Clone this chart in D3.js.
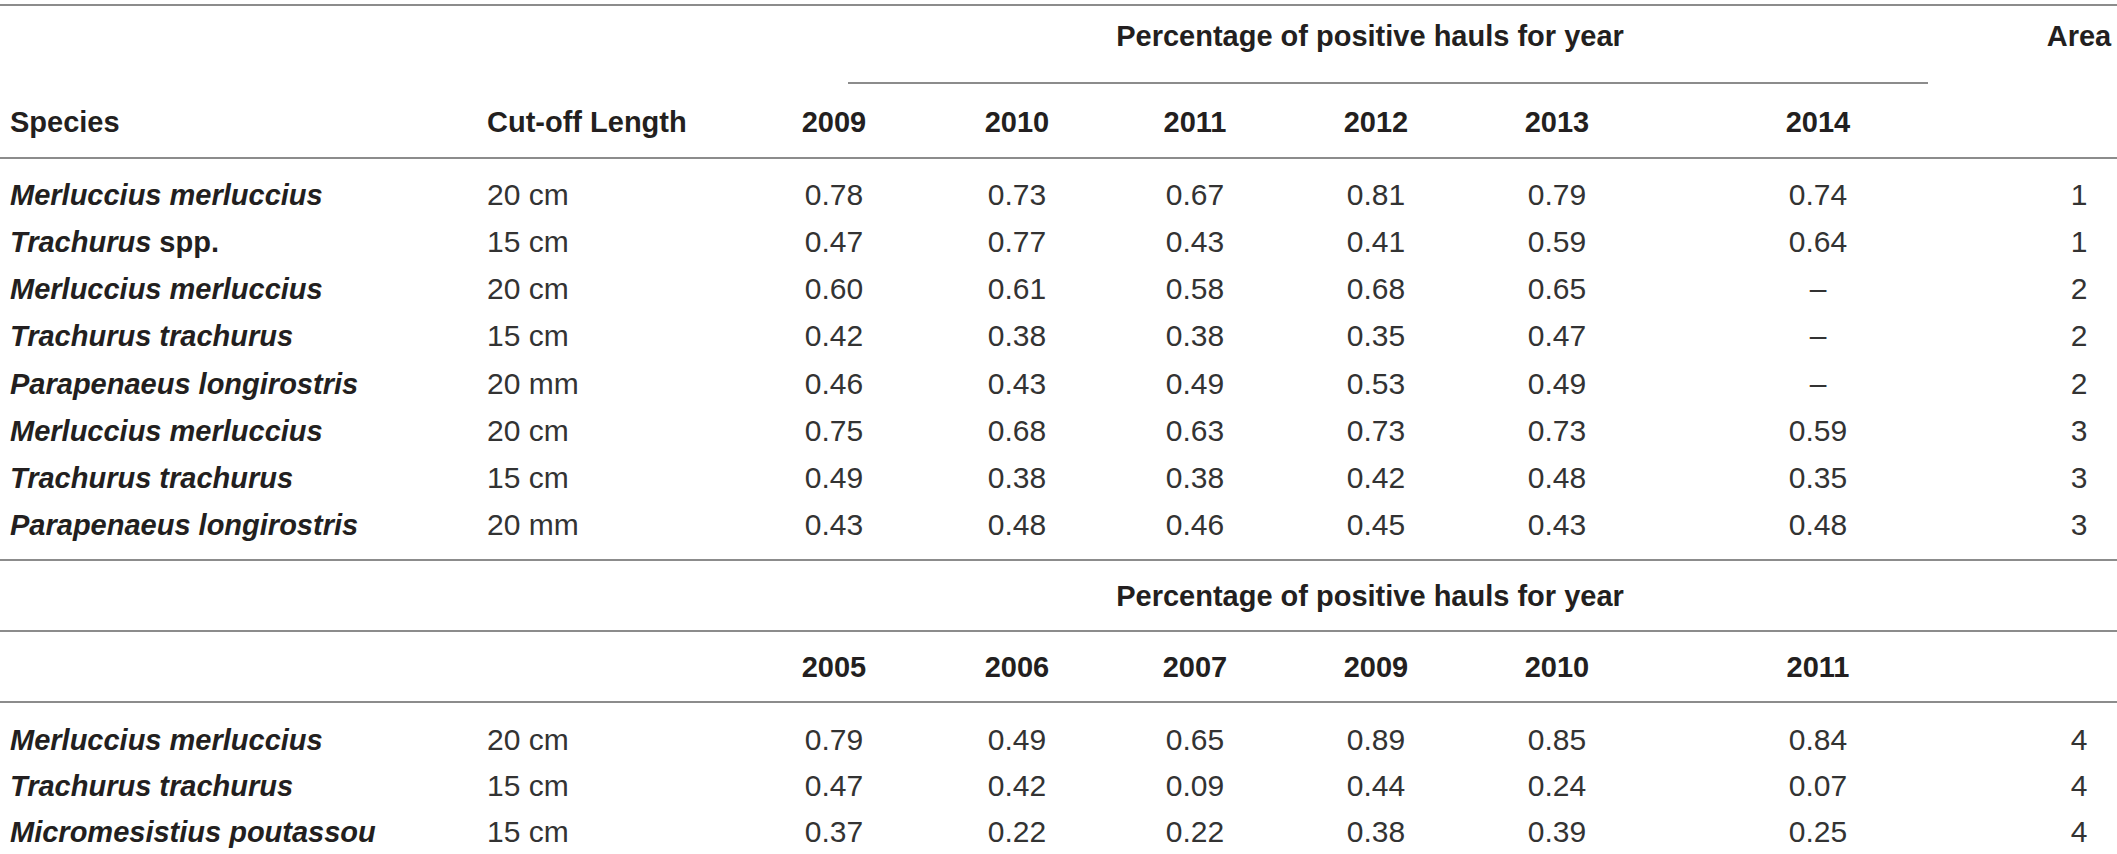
<!DOCTYPE html>
<html lang="en">
<head>
  <meta charset="utf-8">
  <script src="https://d3js.org/d3.v7.min.js"></script>
  <style>
    body { margin: 0; background: #fff; }
    svg text { font-family: "Liberation Sans", Arial, sans-serif; fill: #231f20; }
    .hd { font-weight: bold; font-size: 29px; }
    .sp { font-weight: bold; font-style: italic; font-size: 29px; }
    .val { font-size: 30px; fill: #333; }
    .rule { stroke: #8c8c8c; stroke-width: 2; }
  </style>
</head>
<body>
<script>
  // upper block : areas 1-3
  var yearsTop = ["2009", "2010", "2011", "2012", "2013", "2014"];
  var speciesTop = ["Merluccius merluccius", "Trachurus spp.", "Merluccius merluccius", "Trachurus trachurus",
    "Parapenaeus longirostris", "Merluccius merluccius", "Trachurus trachurus", "Parapenaeus longirostris"];
  var cutTop = ["20 cm", "15 cm", "20 cm", "15 cm", "20 mm", "20 cm", "15 cm", "20 mm"];
  var valsTop = [
    [0.78, 0.73, 0.67, 0.81, 0.79, 0.74],
    [0.47, 0.77, 0.43, 0.41, 0.59, 0.64],
    [0.60, 0.61, 0.58, 0.68, 0.65, null],
    [0.42, 0.38, 0.38, 0.35, 0.47, null],
    [0.46, 0.43, 0.49, 0.53, 0.49, null],
    [0.75, 0.68, 0.63, 0.73, 0.73, 0.59],
    [0.49, 0.38, 0.38, 0.42, 0.48, 0.35],
    [0.43, 0.48, 0.46, 0.45, 0.43, 0.48]
  ];
  var areaTop = [1, 1, 2, 2, 2, 3, 3, 3];

  // lower block : area 4
  var yearsBottom = ["2005", "2006", "2007", "2009", "2010", "2011"];
  var speciesBottom = ["Merluccius merluccius", "Trachurus trachurus", "Micromesistius poutassou"];
  var cutBottom = ["20 cm", "15 cm", "15 cm"];
  var valsBottom = [
    [0.79, 0.49, 0.65, 0.89, 0.85, 0.84],
    [0.47, 0.42, 0.09, 0.44, 0.24, 0.07],
    [0.37, 0.22, 0.22, 0.38, 0.39, 0.25]
  ];
  var areaBottom = [4, 4, 4];

  var groupTitle = "Percentage of positive hauls for year";

  var W = 2117, H = 854;
  var svg = d3.select("body").append("svg").attr("width", W).attr("height", H);

  // column positions
  var colX = d3.scaleOrdinal()
    .domain(["species", "cut", "c0", "c1", "c2", "c3", "c4", "c5", "area"])
    .range([10, 487, 834, 1017, 1195, 1376, 1557, 1818, 2079]);
  var yTop = d3.scaleLinear().domain([0, 7]).range([195, 525]);
  var yBot = d3.scaleLinear().domain([0, 2]).range([740, 832]);
  var base = 10; // centre -> baseline

  function rule(y, x1, x2) {
    svg.append("line").attr("class", "rule")
      .attr("x1", x1).attr("x2", x2).attr("y1", y).attr("y2", y);
  }

  function speciesText(sel, name) {
    var parts = name.split(" ");
    if (parts[1] === "spp.") {
      sel.append("tspan").text(parts[0] + " ");
      sel.append("tspan").style("font-style", "normal").text("spp.");
    } else {
      sel.text(name);
    }
  }

  function block(years, species, cut, vals, area, y, heads) {
    years.forEach(function(yr, j) {
      svg.append("text").attr("class", "hd").attr("text-anchor", "middle")
        .attr("x", colX("c" + j)).attr("y", heads.yearY + base).text(yr);
    });
    if (heads.names) {
      svg.append("text").attr("class", "hd").attr("x", colX("species")).attr("y", heads.yearY + base).text("Species");
      svg.append("text").attr("class", "hd").attr("x", colX("cut")).attr("y", heads.yearY + base).text("Cut-off Length");
    }
    species.forEach(function(s, i) {
      var t = svg.append("text").attr("class", "sp").attr("x", colX("species")).attr("y", y(i) + base);
      speciesText(t, s);
      svg.append("text").attr("class", "val").attr("x", colX("cut")).attr("y", y(i) + base).text(cut[i]);
      vals[i].forEach(function(v, j) {
        svg.append("text").attr("class", "val").attr("text-anchor", "middle")
          .attr("x", colX("c" + j)).attr("y", y(i) + base)
          .text(v === null ? "\u2013" : d3.format(".2f")(v));
      });
      svg.append("text").attr("class", "val").attr("text-anchor", "middle")
        .attr("x", colX("area")).attr("y", y(i) + base).text(area[i]);
    });
  }

  // upper header
  rule(5, 0, W);
  svg.append("text").attr("class", "hd").attr("text-anchor", "middle").attr("x", 1370).attr("y", 36 + base).text(groupTitle);
  svg.append("text").attr("class", "hd").attr("text-anchor", "middle").attr("x", colX("area")).attr("y", 36 + base).text("Area");
  rule(83, 848, 1928);
  block(yearsTop, speciesTop, cutTop, valsTop, areaTop, yTop, { yearY: 122, names: true });
  rule(158, 0, W);

  // lower header
  rule(560, 0, W);
  svg.append("text").attr("class", "hd").attr("text-anchor", "middle").attr("x", 1370).attr("y", 596 + base).text(groupTitle);
  rule(631, 0, W);
  block(yearsBottom, speciesBottom, cutBottom, valsBottom, areaBottom, yBot, { yearY: 667, names: false });
  rule(702, 0, W);
</script>
</body>
</html>
